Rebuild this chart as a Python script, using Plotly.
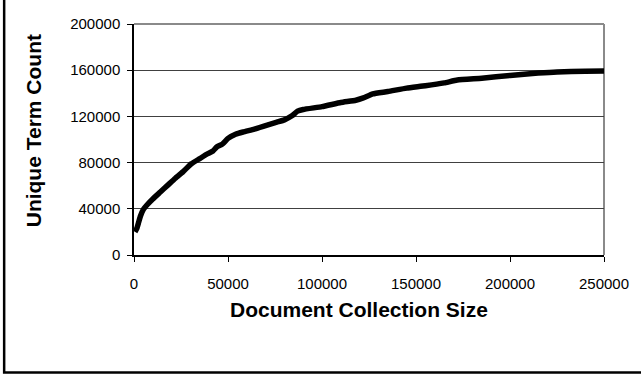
import plotly.graph_objects as go

# Data
doc_size = [500, 1500, 2500, 3500, 5000, 7000, 10000, 14000, 18000, 22000, 26000,
            30500, 35000, 39000, 42000, 44000, 47000, 50000, 54000, 58000, 64000,
            70000, 76000, 80000, 84000, 87000, 90000, 100000, 110000, 118000, 122000,
            127000, 135000, 145000, 155000, 165000, 172000, 185000, 200000, 215000,
            225000, 240000, 250000]
unique_terms = [20000, 23000, 28500, 34000, 39500, 43500, 48500, 54500, 60500, 66500, 72000,
                79000, 83500, 87500, 90000, 93500, 96000, 101000, 104500, 106500, 109000,
                112000, 115000, 117000, 120500, 124500, 126000, 128500, 132000, 134000, 136000,
                139500, 141500, 144500, 146500, 149000, 151500, 153000, 155500, 157500,
                158500, 159000, 159200]

x_ticks = [0, 50000, 100000, 150000, 200000, 250000]
y_ticks = [0, 40000, 80000, 120000, 160000, 200000]
x_title = "Document Collection Size"
y_title = "Unique Term Count"

W, H = 641, 377
L, R, T, B = 134, 31, 24, 122
pw, ph = W - L - R, H - T - B

def px_x(p):
    return (p - L) / pw

def px_y(p):
    return (H - B - p) / ph

FONT = "Liberation Sans, Arial, sans-serif"

fig = go.Figure()
fig.add_trace(go.Scatter(x=doc_size, y=unique_terms, mode="lines",
                         line=dict(color="black", width=5.5, shape="spline", smoothing=0.4),
                         showlegend=False, hoverinfo="skip"))

fig.update_layout(
    width=W, height=H,
    margin=dict(l=L, r=R, t=T, b=B),
    paper_bgcolor="white", plot_bgcolor="white",
    font=dict(family=FONT, color="black"),
    xaxis=dict(range=[0, 250000], tickvals=x_ticks, ticktext=[str(v) for v in x_ticks],
               ticks="outside", ticklen=5, tickcolor="black", tickwidth=1,
               showline=True, linecolor="black", linewidth=1.5,
               showgrid=False, zeroline=False, ticklabelstandoff=9,
               tickfont=dict(family=FONT, size=15, color="black")),
    yaxis=dict(range=[0, 200000], tickvals=y_ticks, ticktext=[str(v) for v in y_ticks],
               ticks="outside", ticklen=5, tickcolor="black", tickwidth=1,
               showline=True, linecolor="black", linewidth=1.5,
               showgrid=True, gridcolor="#404040", gridwidth=1, zeroline=False,
               ticklabelstandoff=4,
               tickfont=dict(family=FONT, size=15, color="black")),
    shapes=[
        # top and right plot borders (gray)
        dict(type="line", xref="paper", yref="paper", x0=0, x1=1, y0=1, y1=1,
             line=dict(color="#8a8a8a", width=2)),
        dict(type="line", xref="paper", yref="paper", x0=1, x1=1, y0=0, y1=1,
             line=dict(color="#8a8a8a", width=2), layer="below"),
        # outer frame
        dict(type="rect", xref="paper", yref="paper",
             x0=px_x(2.5), x1=px_x(W + 10), y0=px_y(372.5), y1=px_y(-10),
             line=dict(color="black", width=2.5)),
    ],
    annotations=[
        dict(text="<b>" + x_title + "</b>", xref="paper", yref="paper",
             x=px_x(362), y=px_y(309.5), xanchor="center", yanchor="middle",
             showarrow=False, font=dict(family=FONT, size=21, color="black")),
        dict(text="<b>" + y_title + "</b>", xref="paper", yref="paper",
             x=px_x(32), y=px_y(131), xanchor="center", yanchor="middle",
             textangle=-90, showarrow=False,
             font=dict(family=FONT, size=21, color="black")),
    ],
)

fig.write_html("out.html", config={"displayModeBar": False},
               post_script="document.body.style.margin='0';document.body.style.overflow='hidden';")
